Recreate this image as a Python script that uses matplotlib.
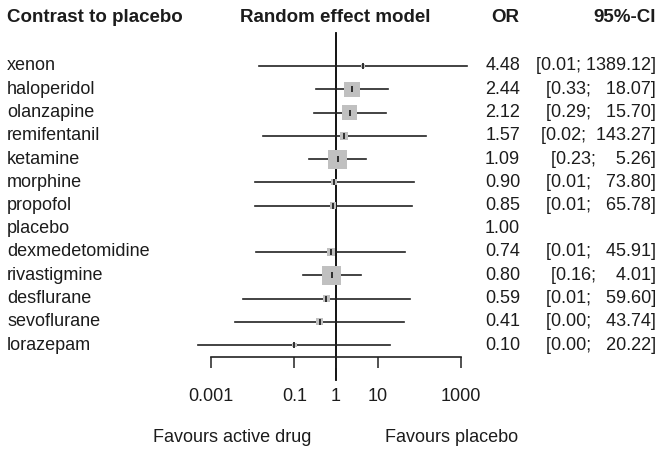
import numpy as np
import matplotlib
matplotlib.use("Agg")
import matplotlib.pyplot as plt
from matplotlib.transforms import blended_transform_factory

plt.rcParams['font.family'] = ['Liberation Sans', 'DejaVu Sans']

# network meta-analysis, odds ratios vs placebo
drugs = ["xenon", "haloperidol", "olanzapine", "remifentanil", "ketamine",
         "morphine", "propofol", "placebo", "dexmedetomidine", "rivastigmine",
         "desflurane", "sevoflurane", "lorazepam"]
odds = [4.48, 2.44, 2.12, 1.57, 1.09, 0.90, 0.85, 1.00, 0.74, 0.80, 0.59, 0.41, 0.10]
ci_low = [0.014, 0.33, 0.29, 0.018, 0.23, 0.0115, 0.0115, np.nan, 0.012, 0.16,
          0.006, 0.0038, 0.0005]
ci_high = [1389.12, 18.07, 15.70, 143.27, 5.26, 73.80, 65.78, np.nan, 45.91, 4.01,
           59.60, 43.74, 20.22]
weight = [6, 65, 65, 18, 100, 10, 12, 0, 18, 100, 14, 14, 6]

xticks = [0.001, 0.1, 1, 10, 1000]
xtick_labels = ["0.001", "0.1", "1", "10", "1000"]

W, H = 660, 450
txt = "#1c1c1c"

fig = plt.figure(figsize=(W / 100, H / 100), dpi=100)
ax = fig.add_axes([211 / W, 1 - 357 / H, 250 / W, 324 / H])
ax.set_xscale("log")
ax.set_xlim(1e-3, 1e3)
n = len(drugs)
step = (345 - 66) / (n - 1)
ax.set_ylim((357 - 66) / step, (33 - 66) / step)

rows = np.arange(n)
for i in rows:
    if np.isnan(ci_low[i]):
        continue
    ax.plot([ci_low[i], ci_high[i]], [i, i], color="#222222", lw=1.2,
            clip_on=False, zorder=2)
    side = 19 * np.sqrt(weight[i] / 100) * 0.72  # px -> pt
    ax.scatter(odds[i], i, marker="s", s=side ** 2, color="#c0c0c0",
               edgecolors="none", zorder=3, clip_on=False)
    ax.plot(odds[i], i, marker="|", ms=4, mew=1.3, color="#222222",
            zorder=4, clip_on=False)

# line of no effect
ax.plot([1, 1], [ax.get_ylim()[1], (380 - 66) / step], color="black", lw=1.3,
        clip_on=False, zorder=1)

for s in ["top", "right", "left"]:
    ax.spines[s].set_visible(False)
ax.spines["bottom"].set_bounds(1e-3, 1e3)
ax.spines["bottom"].set_linewidth(1.2)
ax.spines["bottom"].set_color("#222222")
ax.patch.set_visible(False)
ax.set_yticks([])
ax.set_xticks(xticks)
ax.set_xticklabels(xtick_labels)
ax.minorticks_off()
ax.tick_params(axis="x", direction="out", length=8, width=1.1, colors="#222222",
               labelcolor=txt, labelsize=13, pad=14)

# table columns
tr = blended_transform_factory(fig.transFigure, ax.transData)
fs = 13
for i in rows:
    ax.text(7 / W, i, drugs[i], transform=tr, ha="left", va="center",
            fontsize=fs, color=txt)
    ax.text(520 / W, i, f"{odds[i]:.2f}", transform=tr, ha="right",
            va="center", fontsize=fs, color=txt)
    if not np.isnan(ci_low[i]):
        ci = f"[{ci_low[i]:.2f}; {ci_high[i]:>7.2f}]"
        ax.text(656 / W, i, ci, transform=tr, ha="right", va="center",
                fontsize=fs, color=txt)

hy = 1 - 18 / H
hfs = 13.5
fig.text(7 / W, hy, "Contrast to placebo", ha="left", va="center",
         fontsize=hfs, fontweight="bold", color=txt)
fig.text(335 / W, hy, "Random effect model", ha="center", va="center",
         fontsize=hfs, fontweight="bold", color=txt)
fig.text(519 / W, hy, "OR", ha="right", va="center",
         fontsize=hfs, fontweight="bold", color=txt)
fig.text(656 / W, hy, "95%-CI", ha="right", va="center",
         fontsize=hfs, fontweight="bold", color=txt)

fig.text(232 / W, 1 - 438 / H, "Favours active drug", ha="center", va="center",
         fontsize=fs, color=txt)
fig.text(452 / W, 1 - 438 / H, "Favours placebo", ha="center", va="center",
         fontsize=fs, color=txt)

fig.savefig("out.png", dpi=100, facecolor="white")
